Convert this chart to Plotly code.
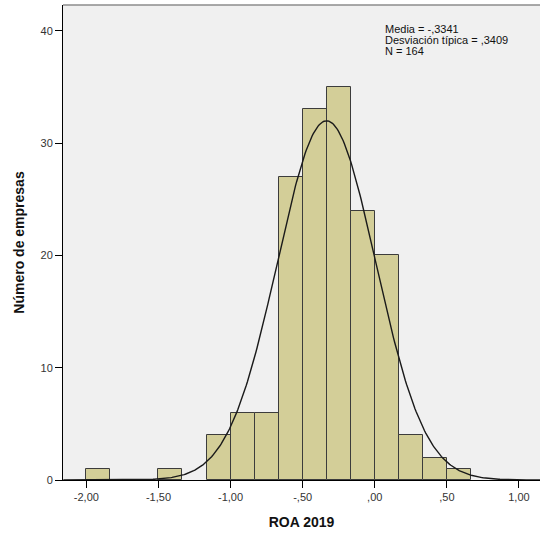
import numpy as np
import plotly.graph_objects as go

# Histogram of ROA 2019 (bin width = 1/6)
bin_width = 1 / 6
bin_left = [-2.0, -1.5, -7/6, -1.0, -5/6, -4/6, -0.5, -2/6, -1/6, 0.0, 1/6, 2/6, 0.5]
counts = [1, 1, 4, 6, 6, 27, 33, 35, 24, 20, 4, 2, 1]

# Summary statistics shown in the legend box
mean_val = -0.3341
sd_val = 0.3409
n_val = 164

x_tickvals = [-2.0, -1.5, -1.0, -0.5, 0.0, 0.5, 1.0]
x_ticktext = ["-2,00", "-1,50", "-1,00", "-,50", ",00", ",50", "1,00"]
y_tickvals = [0, 10, 20, 30, 40]

centers = [l + bin_width / 2 for l in bin_left]

fig = go.Figure()
fig.add_trace(go.Bar(
    x=centers, y=counts, width=[bin_width] * len(counts),
    marker=dict(color="#D3CE98", line=dict(color="#3C3C3C", width=1)),
    showlegend=False, hoverinfo="x+y",
))

# Fitted normal curve scaled to counts
xs = np.linspace(-2.16, 1.15, 400)
ys = n_val * bin_width / (sd_val * np.sqrt(2 * np.pi)) * np.exp(-0.5 * ((xs - mean_val) / sd_val) ** 2)
fig.add_trace(go.Scatter(x=xs, y=ys, mode="lines",
                         line=dict(color="#1A1A1A", width=1.4),
                         showlegend=False, hoverinfo="skip"))

# Top frame line
fig.add_shape(type="line", xref="paper", yref="paper", x0=0, x1=1, y0=1, y1=1,
              line=dict(color="#8C8C8C", width=1.5))

# Statistics box, one line per annotation for tight spacing
def spss_num(v):
    s = f"{abs(v):.4f}".lstrip("0").replace(".", ",")
    return ("-" if v < 0 else "") + s

stat_lines = [
    f"Media = {spss_num(mean_val)}",
    f"Desviación típica = {spss_num(sd_val)}",
    f"N = {n_val}",
]
for i, line in enumerate(stat_lines):
    fig.add_annotation(
        xref="paper", yref="paper", x=0.671, y=0.9505 - i * 0.0232,
        xanchor="left", yanchor="middle", showarrow=False, text=line,
        font=dict(family="Liberation Sans, Arial", size=11, color="#111111"),
    )

fig.update_layout(
    width=540, height=538,
    margin=dict(l=63, r=0, t=5, b=58),
    paper_bgcolor="white", plot_bgcolor="#F0F0F0",
    bargap=0,
    font=dict(family="Liberation Sans, Arial", size=11, color="#333333"),
    xaxis=dict(
        range=[-2.162, 1.146], tickvals=x_tickvals, ticktext=x_ticktext,
        showgrid=False, zeroline=False, showline=True, linecolor="#000000", linewidth=1,
        ticks="outside", ticklen=7, tickcolor="#000000",
        title=dict(text="<b>ROA 2019</b>", font=dict(size=14, color="#111111"), standoff=14),
    ),
    yaxis=dict(
        range=[0, 42.3], tickvals=y_tickvals,
        showgrid=False, zeroline=False, showline=True, linecolor="#000000", linewidth=1,
        ticks="outside", ticklen=7, tickcolor="#000000",
        title=dict(text="<b>Número de empresas</b>", font=dict(size=14, color="#111111"), standoff=12),
    ),
)

fig.write_html("out.html")
